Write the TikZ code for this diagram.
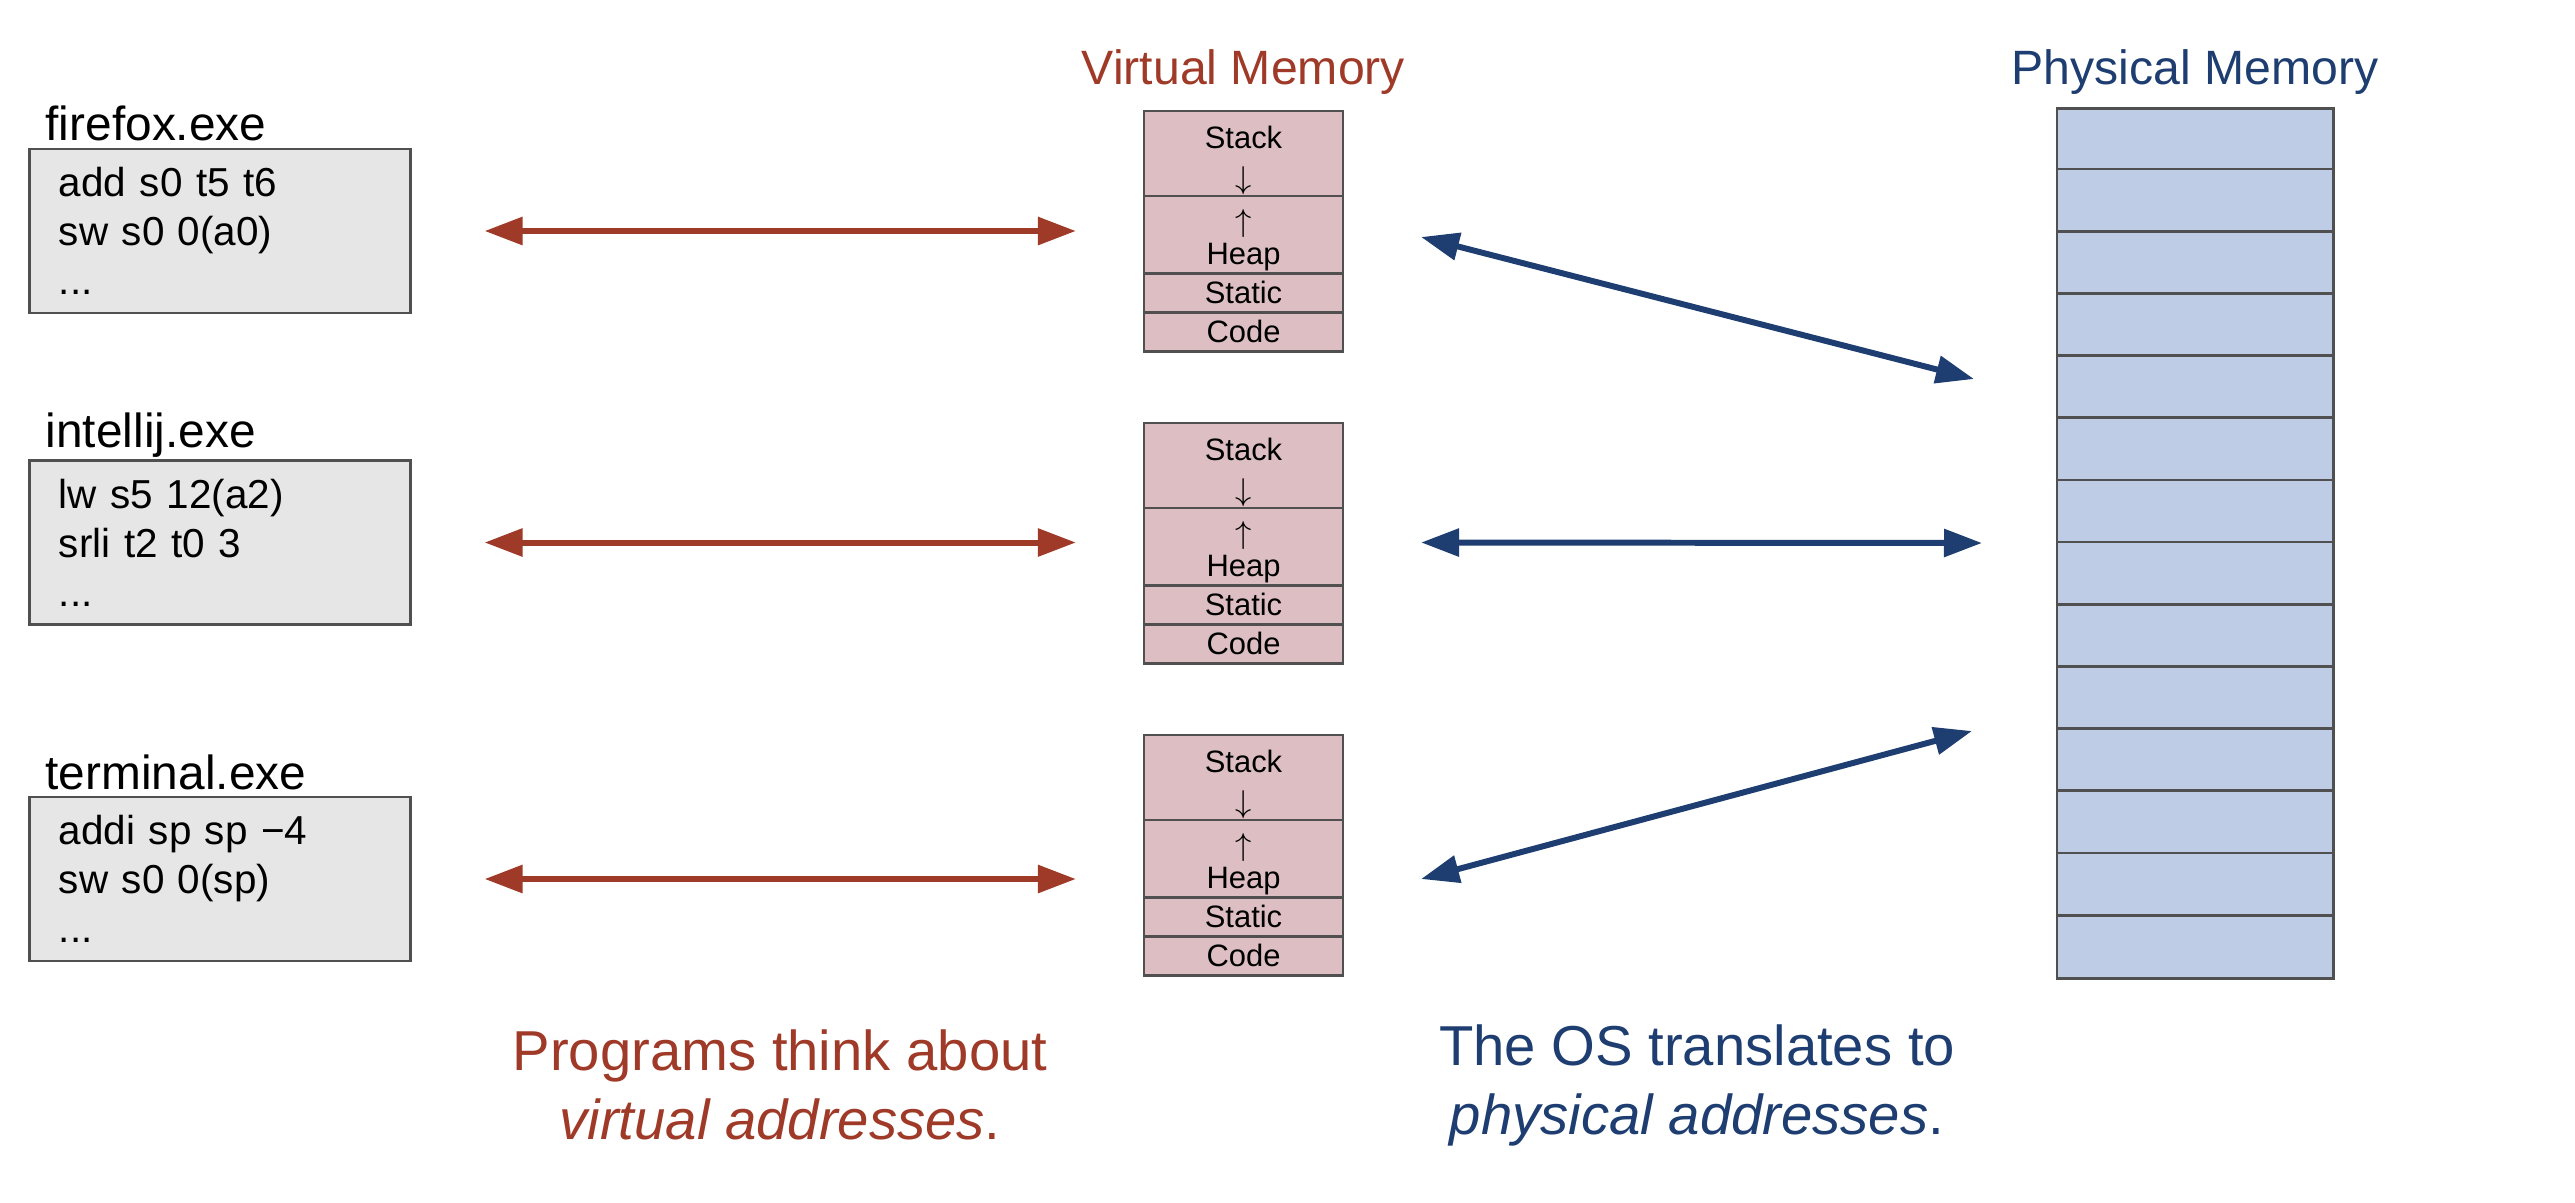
\documentclass[tikz,border=0pt]{standalone}
\usepackage{fontspec}
\setmainfont{Liberation Sans}
\usetikzlibrary{arrows.meta}
\definecolor{vmred}{HTML}{A03A28}
\definecolor{pmblue}{HTML}{1E3D70}
\definecolor{vmfill}{HTML}{DDBFC3}
\definecolor{pmfill}{HTML}{BFCCE5}
\definecolor{progfill}{HTML}{E6E6E6}
\definecolor{edgegray}{HTML}{505050}

\tikzset{
  progbox/.style={draw=edgegray, line width=0.8pt, fill=progfill,
    minimum width=3.8cm, minimum height=1.64cm, inner xsep=0.29cm,
    text width=3.22cm, align=left, font=\fontsize{11.5}{13.9}\selectfont},
  proglabel/.style={anchor=west, inner sep=0pt, font=\fontsize{13.6}{16}\selectfont},
  title/.style={inner sep=0pt, font=\fontsize{13.7}{16}\selectfont},
  seg/.style={draw=edgegray, line width=0.8pt, fill=vmfill, minimum width=1.99cm,
    inner sep=0pt, outer sep=0pt, anchor=north, font=\fontsize{8.8}{10}\selectfont},
  seglabel/.style={inner sep=0pt, font=\fontsize{8.8}{10}\selectfont},
  tip/.tip={Triangle[length=0.38cm,width=0.27cm]},
  redarrow/.style={draw=vmred, line width=1.7pt, tip-tip},
  bluearrow/.style={draw=pmblue, line width=1.7pt, tip-tip},
  note/.style={align=center, inner sep=0pt, font=\fontsize{16}{19.6}\selectfont}
}

\begin{document}
\begin{tikzpicture}[x=0.01cm, y=-0.01cm]
\useasboundingbox (0,0) rectangle (2575,1202);

% programs
\node[proglabel] (fflabel) at (45,123) {firefox.exe};
\node[progbox] (ff) at (220,231) {add s0 t5 t6\\ sw s0 0(a0)\\ ...};
\node[proglabel] (ijlabel) at (45,435) {intellij.exe};
\node[progbox] (ij) at (220,542.5) {lw s5 12(a2)\\ srli t2 t0 3\\ ...};
\node[proglabel] (tmlabel) at (45,772) {terminal.exe};
\node[progbox] (tm) at (220,879) {addi sp sp \symbol{"2212}4\\ sw s0 0(sp)\\ ...};

% virtual memory
\node[title, text=vmred] (vmtitle) at (1243.5,72) {Virtual Memory};
\foreach \t/\n in {111/va, 423/vb, 735/vc}{
  \node[seg, minimum height=0.85cm] (\n-stack) at (1243.5,\t) {};
  \node[seg, minimum height=0.77cm] (\n-heap) at (\n-stack.south) {};
  \node[seg, minimum height=0.39cm] (\n-static) at (\n-heap.south) {Static};
  \node[seg, minimum height=0.39cm] (\n-code) at (\n-static.south) {Code};
  \node[seglabel] (\n-stacktxt) at ([yshift=-0.26cm]\n-stack.north) {Stack};
  \node[seglabel] (\n-down) at ([yshift=-0.70cm]\n-stack.north) {$\downarrow$};
  \node[seglabel] (\n-up) at ([yshift=-0.28cm]\n-heap.north) {$\uparrow$};
  \node[seglabel] (\n-heaptxt) at ([yshift=-0.61cm]\n-heap.north) {Heap};
}

% physical memory
\node[title, text=pmblue] (pmtitle) at (2195,72) {Physical Memory};
\node[draw=edgegray, line width=0.8pt, fill=pmfill, minimum width=2.76cm,
  minimum height=8.70cm, inner sep=0pt] (pm) at (2195,543.5) {};
\foreach \i in {1,...,13}
  \draw[edgegray, line width=0.8pt] ([yshift=-\i*0.6214cm]pm.north west) -- ([yshift=-\i*0.6214cm]pm.north east);

\coordinate (pa) at (1974,379);
\coordinate (pb) at (1982,543);
\coordinate (pc) at (1972,731);
\coordinate (va-out) at ([xshift=0.78cm]va-stack.east |- ff.east);
\coordinate (vb-out) at ([xshift=0.78cm]vb-stack.east |- ij.east);
\coordinate (vc-out) at ([xshift=0.78cm]vc-stack.east |- tm.east);

% arrows
\draw[redarrow, shorten <=0.73cm, shorten >=0.68cm] (ff.east) -- (va-stack.west |- ff.east);
\draw[redarrow, shorten <=0.73cm, shorten >=0.68cm] (ij.east) -- (vb-stack.west |- ij.east);
\draw[redarrow, shorten <=0.73cm, shorten >=0.68cm] (tm.east) -- (vc-stack.west |- tm.east);

\draw[bluearrow] ([yshift=-0.06cm]va-out) -- (pa);
\draw[bluearrow] (vb-out) -- (pb);
\draw[bluearrow] (vc-out) -- (pc);

% captions
\node[note, text=vmred] (vmnote) at (780,1085) {Programs think about\\ \textit{virtual addresses}.};
\node[note, text=pmblue] (pmnote) at (1697,1085) {The OS translates to\\ \textit{physical addresses}.};

\end{tikzpicture}
\end{document}
